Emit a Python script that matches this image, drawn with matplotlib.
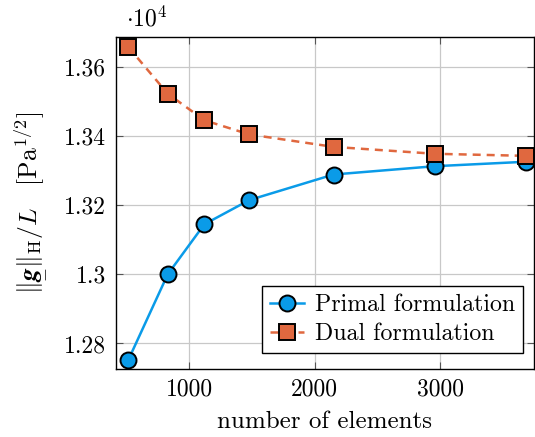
import matplotlib
matplotlib.use("Agg")
import matplotlib.pyplot as plt

# data (y in units of 1e4)
n_elements = [514, 828, 1120, 1478, 2149, 2955, 3684]
primal = [1.2752, 1.3000, 1.3145, 1.3215, 1.3289, 1.3313, 1.3326]
dual = [1.3658, 1.3523, 1.3446, 1.3405, 1.3369, 1.3349, 1.3343]

x_ticks = [1000, 2000, 3000]
y_ticks = [1.28, 1.30, 1.32, 1.34, 1.36]
y_ticklabels = ["1.28", "1.3", "1.32", "1.34", "1.36"]

BLUE = "#0a9be8"
ORANGE = "#e0683f"

plt.rcParams.update({
    "font.family": "serif",
    "font.serif": ["cmr10", "DejaVu Serif"],
    "mathtext.fontset": "cm",
    "axes.unicode_minus": False,
    "axes.formatter.use_mathtext": True,
    "font.size": 16,
})

fig = plt.figure(figsize=(5.35, 4.37), dpi=100)
ax = fig.add_axes([0.2168, 0.1556, 0.7812, 0.7597])

ax.plot(n_elements, primal, "-o", color=BLUE, lw=1.8, ms=11.5,
        mfc=BLUE, mec="black", mew=1.4, label="Primal formulation",
        clip_on=False, zorder=3)
ax.plot(n_elements, dual, "--s", color=ORANGE, lw=1.8, ms=11,
        mfc=ORANGE, mec="black", mew=1.4, label="Dual formulation",
        clip_on=False, zorder=3, dashes=(3.2, 2.4))

ax.set_xlim(416, 3745)
ax.set_ylim(1.2726, 1.3687)
ax.set_xticks(x_ticks)
ax.set_xticklabels([str(t) for t in x_ticks])
ax.set_yticks(y_ticks)
ax.set_yticklabels(y_ticklabels)

ax.grid(True, color="#c8c8c8", lw=0.9)
ax.set_axisbelow(True)
ax.tick_params(direction="in", length=5, width=0.8, color="#555555",
               top=True, right=True, pad=7, labelsize=17)
for sp in ax.spines.values():
    sp.set_linewidth(1.0)

ax.set_xlabel("number of elements", fontsize=18, labelpad=7)
ax.set_ylabel(r"$\Vert\underset{-}{\boldsymbol{g}}\Vert_{\mathrm{H}}/L\quad[\mathrm{Pa}^{1/2}]$",
              fontsize=18.5, labelpad=13)
fig.text(0.235, 0.957, r"$\cdot 10^4$", fontsize=17, ha="left", va="center")

leg = ax.legend(loc="lower right", bbox_to_anchor=(0.974, 0.048),
                borderaxespad=0, fancybox=False, edgecolor="black",
                framealpha=1, fontsize=17.2, handlelength=1.45,
                borderpad=0.33, labelspacing=0.3, handletextpad=0.45)
leg.get_frame().set_linewidth(1.0)

fig.savefig("out.png", dpi=100)
